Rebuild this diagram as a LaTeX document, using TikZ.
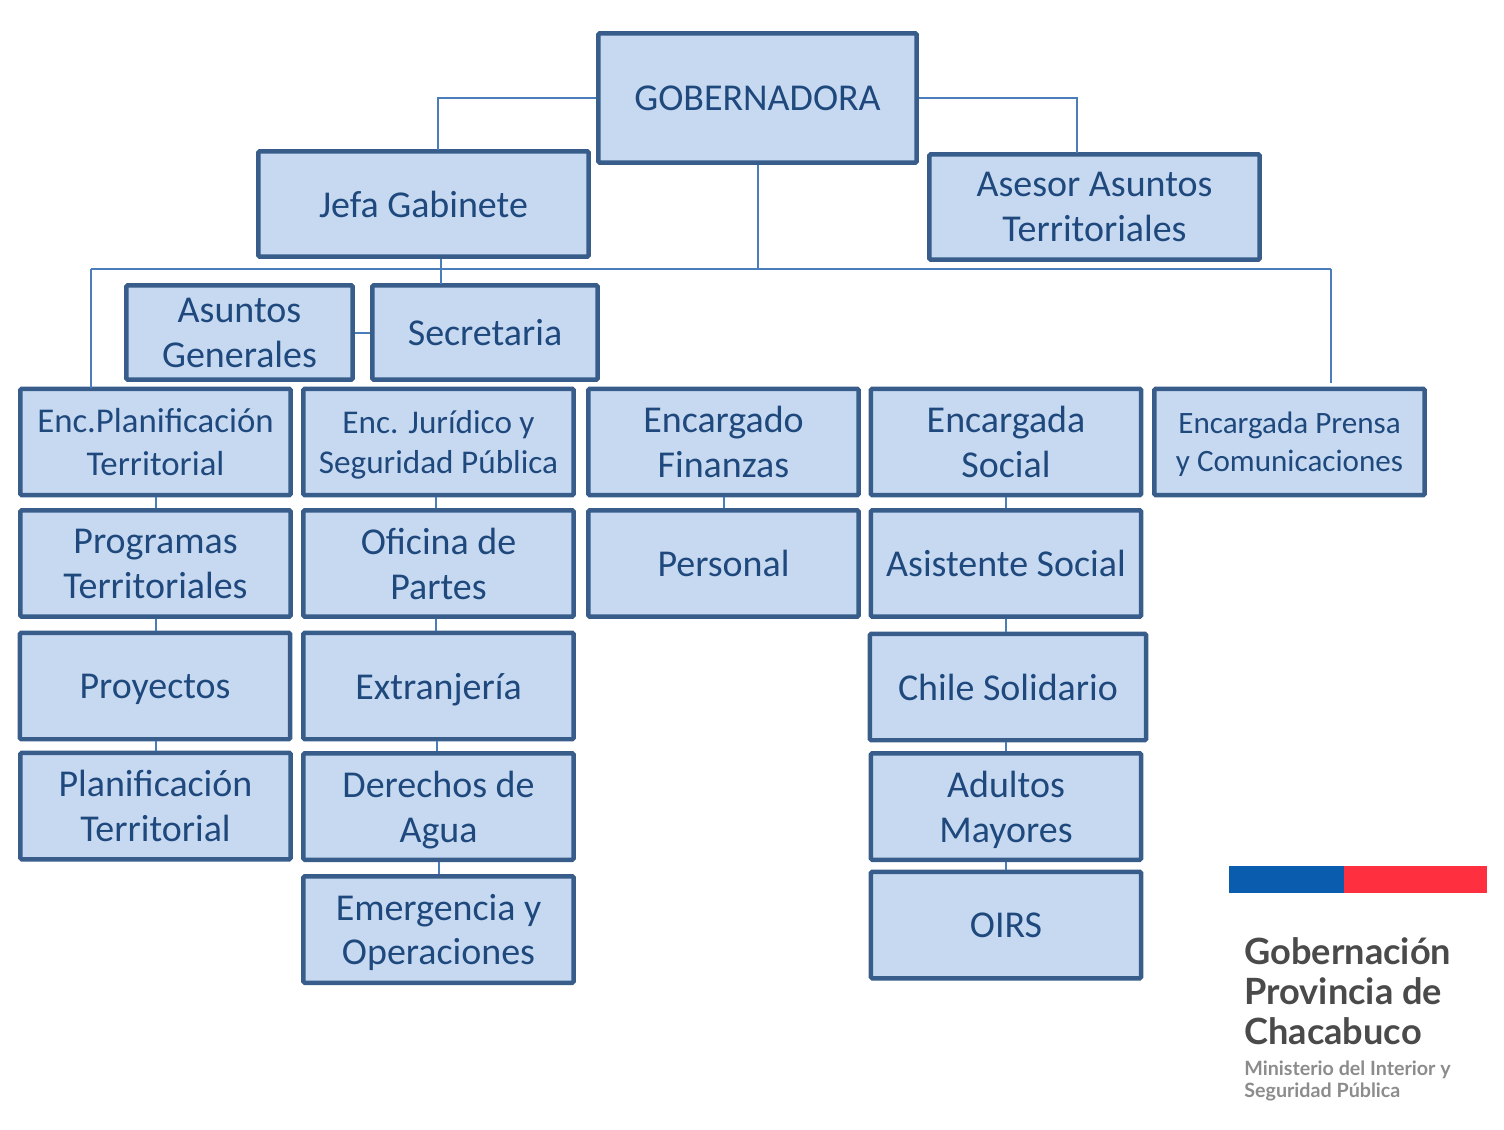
\documentclass[tikz,border=0pt]{standalone}
\usepackage{fontspec}
\setmainfont{Carlito}
\newfontfamily\logofont{Lato}
\definecolor{boxfill}{HTML}{C6D9F1}
\definecolor{boxline}{HTML}{385D8A}
\definecolor{linkline}{HTML}{4A7EBB}
\definecolor{boxtext}{HTML}{1F497D}
\definecolor{logoblue}{HTML}{0A5CAE}
\definecolor{logored}{HTML}{FE3040}
\definecolor{logodark}{HTML}{4A4A4A}
\definecolor{logogrey}{HTML}{8C8C8C}
\begin{document}
\begin{tikzpicture}[x=0.02cm, y=-0.02cm,
	box/.style={rectangle, draw=boxline, fill=boxfill, line width=0.09cm, rounded corners=0.03cm, text=boxtext, align=center, inner sep=0pt, text depth=0pt, font=\fontsize{21.6}{25.5}\selectfont},
	colbox/.style={box, minimum width=5.41cm, minimum height=2.13cm},
	link/.style={draw=linkline, line width=0.04cm},
	logotext/.style={anchor=base west, inner sep=0pt, font=\logofont\bfseries\fontsize{20.6}{24}\selectfont, text=logodark},
	logosub/.style={anchor=base west, inner sep=0pt, font=\logofont\bfseries\fontsize{11.2}{13}\selectfont, text=logogrey}]

	\useasboundingbox (0,0) rectangle (1504,1129);

	\coordinate (jefatop) at (438,150);
	\coordinate (asesortop) at (1077,153);
	\coordinate (busleft) at (91,269);
	\coordinate (busright) at (1331,269);
	\coordinate (planiftop) at (91,388);
	\coordinate (prensatop) at (1331,383);
	\coordinate (secretop) at (441,284);

	\node[box, minimum width=6.37cm, minimum height=2.59cm] (gob) at (757.5,98) {GOBERNADORA};
	\node[box, minimum width=6.61cm, minimum height=2.11cm] (jefa) at (423.5,204) {Jefa Gabinete};
	\node[box, minimum width=6.61cm, minimum height=2.11cm] (asesor) at (1094.5,207) {Asesor Asuntos\\Territoriales};
	\node[box, minimum width=4.53cm, minimum height=1.89cm] (asuntos) at (239.5,332.5) {Asuntos\\Generales};
	\node[box, minimum width=4.51cm, minimum height=1.89cm] (secre) at (485,332.5) {Secretaria};

	\node[colbox, font=\fontsize{19.8}{24.4}\selectfont] (planif) at (155.5,442) {Enc.Planificación\\Territorial};
	\node[colbox, font=\fontsize{18.9}{22.6}\selectfont] (juridico) at (438.5,442) {Enc. Jurídico y\\Seguridad Pública};
	\node[colbox] (finanzas) at (723.5,442) {Encargado\\Finanzas};
	\node[colbox] (social) at (1006,442) {Encargada\\Social};
	\node[colbox, font=\fontsize{17.7}{21.6}\selectfont] (prensa) at (1289.5,442) {Encargada Prensa\\y Comunicaciones};

	\node[colbox] (programas) at (155.5,563.5) {Programas\\Territoriales};
	\node[colbox] (oficina) at (438.5,563.5) {Oficina de\\Partes};
	\node[colbox] (personal) at (723.5,563.5) {Personal};
	\node[colbox] (asistente) at (1006,563.5) {Asistente Social};

	\node[colbox] (proyectos) at (155,686) {Proyectos};
	\node[colbox] (extranjeria) at (438.5,686) {Extranjería};
	\node[box, minimum width=5.53cm, minimum height=2.13cm] (chile) at (1008,687) {Chile Solidario};

	\node[colbox] (planter) at (155.5,806) {Planificación\\Territorial};
	\node[colbox] (derechos) at (438.5,806.5) {Derechos de\\Agua};
	\node[colbox] (adultos) at (1006,806.5) {Adultos\\Mayores};

	\node[colbox] (emergencia) at (438.5,929.5) {Emergencia y\\Operaciones};
	\node[colbox] (oirs) at (1006,925) {OIRS};

	\draw[link] (gob.west) -| (jefatop);
	\draw[link] (gob.east) -| (asesortop);
	\draw[link] (busleft) -- (busright);
	\draw[link] (gob.south) -- (gob.south |- busleft);
	\draw[link] (busleft) -- (planiftop);
	\draw[link] (busright) -- (prensatop);
	\draw[link] (secretop |- jefa.south) -- (secretop);
	\draw[link] (asuntos.east) -- (secre.west);

	\draw[link] (planif) -- (programas);
	\draw[link] (programas.south) -- (programas.south |- proyectos.north);
	\draw[link] (programas.south |- proyectos.south) -- (programas.south |- planter.north);

	\draw[link] ([xshift=-0.05cm]juridico.south) -- ([xshift=-0.05cm]oficina.north);
	\draw[link] ([xshift=-0.05cm]oficina.south) -- ([xshift=-0.05cm]extranjeria.north);
	\draw[link] ([xshift=-0.03cm]extranjeria.south) -- ([xshift=-0.03cm]derechos.north);
	\draw[link] (derechos.south) -- (emergencia.north);

	\draw[link] (finanzas) -- (personal);

	\draw[link] (social) -- (asistente);
	\draw[link] (asistente.south) -- (asistente.south |- chile.north);
	\draw[link] (asistente.south |- chile.south) -- (adultos.north);
	\draw[link] (adultos) -- (oirs);

	\fill[logoblue] (1229,866) rectangle (1344,893);
	\fill[logored] (1344,866) rectangle (1487,893);
	\node[logotext] (logoa) at (1244,964) {Gobernación};
	\node[logotext] (logob) at (1244,1004) {Provincia de};
	\node[logotext] (logoc) at (1244,1044) {Chacabuco};
	\node[logosub] (logod) at (1244,1075) {Ministerio del Interior y};
	\node[logosub] (logoe) at (1244,1097) {Seguridad Pública};

\end{tikzpicture}
\end{document}
